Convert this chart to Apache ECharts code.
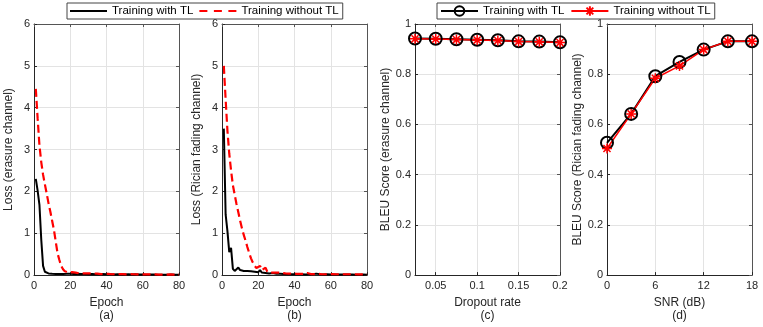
<!DOCTYPE html>
<html>
<head>
<meta charset="utf-8">
<script src="https://cdn.jsdelivr.net/npm/echarts@6/dist/echarts.min.js"></script>
<style>
html, body { margin: 0; padding: 0; background: #fff; }
#main { width: 763px; height: 327px; }
</style>
</head>
<body>
<div id="main"></div>
<script>
// loss curves, one value per epoch (epoch 1..80)
var lossA_TL = [2.30, 2.02, 1.68, 0.85, 0.22, 0.08, 0.05, 0.04, 0.035, 0.03,
    0.03, 0.028, 0.03, 0.025, 0.03, 0.028, 0.025, 0.03, 0.027, 0.035,
    0.03, 0.028, 0.025, 0.03, 0.022, 0.025, 0.02, 0.025, 0.03, 0.022,
    0.02, 0.025, 0.018, 0.02, 0.022, 0.018, 0.02, 0.025, 0.018, 0.02,
    0.015, 0.018, 0.02, 0.015, 0.018, 0.022, 0.015, 0.015, 0.018, 0.012,
    0.015, 0.02, 0.015, 0.012, 0.015, 0.018, 0.012, 0.015, 0.012, 0.015,
    0.012, 0.01, 0.015, 0.012, 0.01, 0.015, 0.012, 0.01, 0.012, 0.01,
    0.012, 0.01, 0.015, 0.01, 0.008, 0.012, 0.01, 0.008, 0.01, 0.01];
var lossA_noTL = [4.45, 3.75, 3.10, 2.70, 2.40, 2.17, 1.95, 1.72, 1.52, 1.30,
    1.08, 0.80, 0.52, 0.36, 0.22, 0.14, 0.09, 0.07, 0.06, 0.09,
    0.07, 0.05, 0.06, 0.05, 0.04, 0.05, 0.04, 0.05, 0.04, 0.035,
    0.04, 0.03, 0.04, 0.03, 0.035, 0.03, 0.025, 0.03, 0.028, 0.025,
    0.03, 0.025, 0.02, 0.028, 0.025, 0.02, 0.025, 0.02, 0.022, 0.02,
    0.018, 0.02, 0.022, 0.018, 0.02, 0.015, 0.018, 0.02, 0.015, 0.018,
    0.015, 0.018, 0.015, 0.02, 0.015, 0.012, 0.015, 0.018, 0.012, 0.015,
    0.012, 0.015, 0.012, 0.01, 0.015, 0.012, 0.01, 0.012, 0.01, 0.012];
var lossB_TL = [3.50, 1.45, 1.05, 0.55, 0.65, 0.15, 0.10, 0.13, 0.18, 0.12,
    0.10, 0.10, 0.12, 0.10, 0.09, 0.09, 0.08, 0.08, 0.07, 0.07,
    0.12, 0.06, 0.08, 0.05, 0.05, 0.04, 0.04, 0.05, 0.03, 0.03,
    0.04, 0.03, 0.03, 0.025, 0.03, 0.02, 0.025, 0.02, 0.03, 0.02,
    0.02, 0.025, 0.04, 0.02, 0.02, 0.015, 0.02, 0.02, 0.015, 0.02,
    0.015, 0.035, 0.015, 0.02, 0.015, 0.012, 0.015, 0.02, 0.015, 0.012,
    0.015, 0.012, 0.01, 0.015, 0.012, 0.015, 0.035, 0.012, 0.01, 0.012,
    0.01, 0.012, 0.015, 0.01, 0.012, 0.01, 0.01, 0.012, 0.01, 0.01];
var lossB_noTL = [5.00, 4.20, 3.45, 2.90, 2.50, 2.15, 1.92, 1.70, 1.50, 1.30,
    1.12, 0.96, 0.82, 0.67, 0.53, 0.40, 0.30, 0.22, 0.17, 0.13,
    0.22, 0.12, 0.10, 0.18, 0.08, 0.07, 0.06, 0.05, 0.06, 0.05,
    0.06, 0.10, 0.05, 0.04, 0.04, 0.03, 0.035, 0.03, 0.04, 0.03,
    0.03, 0.04, 0.03, 0.025, 0.03, 0.04, 0.05, 0.03, 0.025, 0.03,
    0.025, 0.02, 0.03, 0.025, 0.02, 0.025, 0.02, 0.03, 0.02, 0.02,
    0.025, 0.02, 0.02, 0.025, 0.02, 0.018, 0.02, 0.025, 0.02, 0.018,
    0.02, 0.018, 0.02, 0.015, 0.018, 0.02, 0.015, 0.018, 0.015, 0.015];

// BLEU vs dropout rate
var dropout = [0.025, 0.05, 0.075, 0.1, 0.125, 0.15, 0.175, 0.2];
var bleuDrop_TL = [0.942, 0.941, 0.939, 0.937, 0.935, 0.931, 0.930, 0.927];
var bleuDrop_noTL = [0.941, 0.940, 0.938, 0.936, 0.934, 0.930, 0.929, 0.926];
var dropoutTicks = [0.05, 0.1, 0.15, 0.2];

// BLEU vs SNR
var snr = [0, 3, 6, 9, 12, 15, 18];
var bleuSnr_TL = [0.527, 0.642, 0.792, 0.849, 0.898, 0.931, 0.931];
var bleuSnr_noTL = [0.504, 0.642, 0.784, 0.833, 0.898, 0.931, 0.931];

var legendLabels = {
    tl: 'Training with TL',
    notl: 'Training without TL',
    tlm: 'Training with TL',
    notlm: 'Training without TL'
};

var FONT = "'Liberation Sans', Arial, sans-serif";
var AX = '#262626';
var GRIDC = '#e3e3e3';

function byEpoch(arr) {
    return arr.map(function (v, i) { return [i + 1, v]; });
}
function pair(xs, ys) {
    return xs.map(function (x, i) { return [x, ys[i]]; });
}

function xAxisCfg(idx, name, extra) {
    var a = {
        gridIndex: idx,
        type: 'value',
        name: name,
        nameLocation: 'middle',
        nameGap: 17,
        nameTextStyle: { color: AX, fontSize: 12, fontFamily: FONT, lineHeight: 13 },
        axisLine: { show: true, lineStyle: { color: AX } },
        axisTick: { show: true, inside: true, length: 3, lineStyle: { color: AX } },
        axisLabel: { color: AX, fontSize: 11, fontFamily: FONT, margin: 5 },
        splitLine: { show: true, lineStyle: { color: GRIDC } }
    };
    for (var k in extra) a[k] = extra[k];
    return a;
}
function yAxisCfg(idx, name, max, interval) {
    return {
        gridIndex: idx,
        type: 'value',
        name: name,
        nameLocation: 'middle',
        nameGap: 19,
        min: 0, max: max, interval: interval,
        nameTextStyle: { color: AX, fontSize: 12, fontFamily: FONT },
        axisLine: { show: true, lineStyle: { color: AX } },
        axisTick: { show: true, inside: true, length: 3, lineStyle: { color: AX } },
        axisLabel: { color: AX, fontSize: 11, fontFamily: FONT, margin: 4 },
        splitLine: { show: true, lineStyle: { color: GRIDC } }
    };
}
// box edges (top / right) with inward ticks only
function boxAxis(idx, pos, extra) {
    var a = {
        gridIndex: idx,
        type: 'value',
        position: pos,
        axisLine: { show: true, onZero: false, lineStyle: { color: '#555' } },
        axisTick: { show: true, inside: true, length: 3, lineStyle: { color: '#555' } },
        axisLabel: { show: false },
        splitLine: { show: false }
    };
    for (var k in extra) a[k] = extra[k];
    return a;
}

var asterisk = 'path://M0,-10L0,10M-10,0L10,0M-7.07,-7.07L7.07,7.07M-7.07,7.07L7.07,-7.07';
var solidIcon = 'path://M0,0H37V2H0Z';
var dashIcon = 'path://M0,0H8V2H0Z M14.5,0H22.5V2H14.5Z M29,0H37V2H29Z';

var legendBase = {
    top: 3,
    padding: [2, 4, 2, 3],
    itemGap: 6, itemWidth: 37, itemHeight: 12,
    borderColor: '#444', borderWidth: 1,
    backgroundColor: '#fff',
    formatter: function (n) { return legendLabels[n]; },
    textStyle: { color: '#000', fontSize: 11.5, fontFamily: FONT }
};
function legendCfg(left, data) {
    var l = {};
    for (var k in legendBase) l[k] = legendBase[k];
    l.left = left;
    l.data = data;
    return l;
}

var dom = document.getElementById('main');
var myChart = echarts.init(dom, null, { renderer: 'canvas' });
var option = {
    animation: false,
    backgroundColor: '#fff',
    textStyle: { fontFamily: FONT },
    grid: [
        { left: 34, right: 584, top: 24, bottom: 48 },
        { left: 222, right: 396, top: 24, bottom: 48 },
        { left: 415, right: 203, top: 24, bottom: 47 },
        { left: 607, right: 11, top: 24, bottom: 47 }
    ],
    legend: [
        legendCfg(67, [
            { name: 'tl', icon: solidIcon, itemStyle: { color: '#000' } },
            { name: 'notl', icon: dashIcon, itemStyle: { color: '#ff0000' } }
        ]),
        legendCfg(437, ['tlm', 'notlm'])
    ],
    xAxis: [
        xAxisCfg(0, 'Epoch\n(a)', { min: 0, max: 80, interval: 20 }),
        xAxisCfg(1, 'Epoch\n(b)', { min: 0, max: 80, interval: 20 }),
        xAxisCfg(2, 'Dropout rate\n(c)', {
            min: 0.025, max: 0.2,
            axisTick: { show: true, inside: true, length: 3, customValues: dropoutTicks, lineStyle: { color: AX } },
            axisLabel: { color: AX, fontSize: 11, fontFamily: FONT, margin: 5, customValues: dropoutTicks }
        }),
        xAxisCfg(3, 'SNR (dB)\n(d)', { min: 0, max: 18, interval: 6 }),
        boxAxis(0, 'top', { min: 0, max: 80, interval: 20 }),
        boxAxis(1, 'top', { min: 0, max: 80, interval: 20 }),
        boxAxis(2, 'top', {
            min: 0.025, max: 0.2,
            axisTick: { show: true, inside: true, length: 3, customValues: dropoutTicks, lineStyle: { color: '#555' } }
        }),
        boxAxis(3, 'top', { min: 0, max: 18, interval: 6 })
    ],
    yAxis: [
        yAxisCfg(0, 'Loss (erasure channel)', 6, 1),
        yAxisCfg(1, 'Loss (Rician fading channel)', 6, 1),
        yAxisCfg(2, 'BLEU Score (erasure channel)', 1, 0.2),
        yAxisCfg(3, 'BLEU Score (Rician fading channel)', 1, 0.2),
        boxAxis(0, 'right', { min: 0, max: 6, interval: 1 }),
        boxAxis(1, 'right', { min: 0, max: 6, interval: 1 }),
        boxAxis(2, 'right', { min: 0, max: 1, interval: 0.2 }),
        boxAxis(3, 'right', { min: 0, max: 1, interval: 0.2 })
    ],
    series: [
        {
            name: 'tl', type: 'line', xAxisIndex: 0, yAxisIndex: 0, symbol: 'none',
            lineStyle: { color: '#000', width: 2 }, itemStyle: { color: '#000' },
            data: byEpoch(lossA_TL)
        },
        {
            name: 'notl', type: 'line', xAxisIndex: 0, yAxisIndex: 0, symbol: 'none',
            lineStyle: { color: '#ff0000', width: 2.2, type: [8, 4] }, itemStyle: { color: '#ff0000' },
            data: byEpoch(lossA_noTL)
        },
        {
            name: 'tl', type: 'line', xAxisIndex: 1, yAxisIndex: 1, symbol: 'none',
            lineStyle: { color: '#000', width: 2 }, itemStyle: { color: '#000' },
            data: byEpoch(lossB_TL)
        },
        {
            name: 'notl', type: 'line', xAxisIndex: 1, yAxisIndex: 1, symbol: 'none',
            lineStyle: { color: '#ff0000', width: 2.2, type: [8, 4] }, itemStyle: { color: '#ff0000' },
            data: byEpoch(lossB_noTL)
        },
        {
            name: 'tlm', type: 'line', xAxisIndex: 2, yAxisIndex: 2,
            symbol: 'circle', symbolSize: 12,
            lineStyle: { color: '#000', width: 2 },
            itemStyle: { color: 'rgba(0,0,0,0)', borderColor: '#000', borderWidth: 2 },
            data: pair(dropout, bleuDrop_TL)
        },
        {
            name: 'notlm', type: 'line', xAxisIndex: 2, yAxisIndex: 2,
            symbol: asterisk, symbolSize: 10,
            lineStyle: { color: '#ff0000', width: 1.5 },
            itemStyle: { color: 'rgba(0,0,0,0)', borderColor: '#ff0000', borderWidth: 1.5 },
            data: pair(dropout, bleuDrop_noTL)
        },
        {
            name: 'tlm', type: 'line', xAxisIndex: 3, yAxisIndex: 3,
            symbol: 'circle', symbolSize: 12,
            lineStyle: { color: '#000', width: 2 },
            itemStyle: { color: 'rgba(0,0,0,0)', borderColor: '#000', borderWidth: 2 },
            data: pair(snr, bleuSnr_TL)
        },
        {
            name: 'notlm', type: 'line', xAxisIndex: 3, yAxisIndex: 3,
            symbol: asterisk, symbolSize: 10,
            lineStyle: { color: '#ff0000', width: 1.5 },
            itemStyle: { color: 'rgba(0,0,0,0)', borderColor: '#ff0000', borderWidth: 1.5 },
            data: pair(snr, bleuSnr_noTL)
        }
    ]
};
myChart.setOption(option, true);
window.onresize = myChart.resize;
</script>
</body>
</html>
